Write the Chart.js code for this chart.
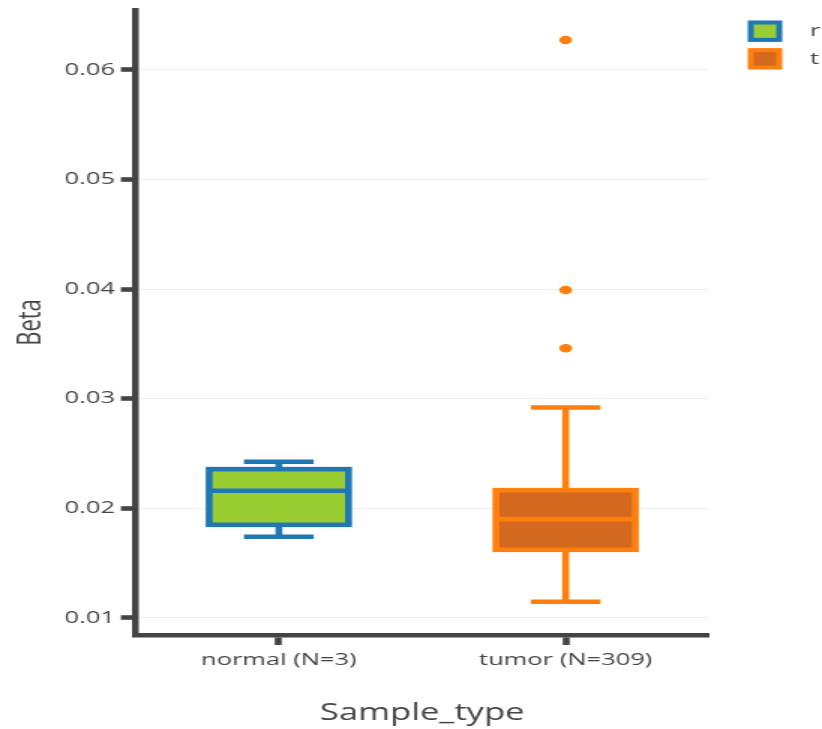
<!DOCTYPE html>
<html>
<head>
<meta charset="utf-8">
<script src="https://cdn.jsdelivr.net/npm/chart.js@4.4.1/dist/chart.umd.min.js"></script>
<style>
  html, body { margin: 0; padding: 0; background: #fff; }
  /* the reference is stretched sideways, so draw narrow and widen */
  #wrap { width: 548px; height: 729px; transform: scaleX(1.5); transform-origin: 0 0; }
</style>
</head>
<body>
<div id="wrap"><canvas id="box-1" width="548" height="729"></canvas></div>
<script>
const categories = ['normal (N=3)', 'tumor (N=309)'];
const legendLabels = ['r', 't'];
const q1 = [0.01848, 0.0162];
const median = [0.02159, 0.0190];
const q3 = [0.02356, 0.02164];
const lowerFence = [0.01739, 0.01146];
const upperFence = [0.02424, 0.02919];
const tumorOutliers = [0.06274, 0.03992, 0.0346];
const yTicks = [0.01, 0.02, 0.03, 0.04, 0.05, 0.06];

const fillColors = ['#9acd32', '#d2691e'];
const lineColors = ['#1f77b4', '#ff7f0e'];
const textColor = '#444';

Chart.defaults.font.family = 'Open Sans';

// whiskers, box outline and median line, drawn on the bar positions
const boxLines = {
    id: 'boxLines',
    afterDatasetsDraw(chart) {
        const c = chart.ctx;
        const y = chart.scales.y;
        c.save();
        c.lineWidth = 4.6;
        chart.getDatasetMeta(0).data.forEach((bar, i) => {
            const half = bar.width / 2;
            const top = y.getPixelForValue(q3[i]);
            const bottom = y.getPixelForValue(q1[i]);
            const hi = y.getPixelForValue(upperFence[i]);
            const lo = y.getPixelForValue(lowerFence[i]);
            const mid = y.getPixelForValue(median[i]);
            c.strokeStyle = lineColors[i];
            c.beginPath();
            c.moveTo(bar.x, top); c.lineTo(bar.x, hi);
            c.moveTo(bar.x, bottom); c.lineTo(bar.x, lo);
            c.moveTo(bar.x - half / 2, hi); c.lineTo(bar.x + half / 2, hi);
            c.moveTo(bar.x - half / 2, lo); c.lineTo(bar.x + half / 2, lo);
            c.moveTo(bar.x - half, mid); c.lineTo(bar.x + half, mid);
            c.stroke();
            c.strokeRect(bar.x - half, top, bar.width, bottom - top);
        });
        c.restore();
    }
};

const legendBoxes = {
    id: 'legendBoxes',
    afterDraw(chart) {
        const c = chart.ctx;
        c.save();
        legendLabels.forEach((label, i) => {
            const top = 22.5 + i * 27.6;
            c.fillStyle = fillColors[i];
            c.fillRect(500.5, top, 19, 17.4);
            c.strokeStyle = lineColors[i];
            c.lineWidth = 4;
            c.strokeRect(500.5, top, 19, 17.4);
            c.fillStyle = textColor;
            c.font = '17px "Open Sans"';
            c.textBaseline = 'alphabetic';
            c.fillText(label, 540, 36 + i * 27.6);
        });
        c.restore();
    }
};

function noPadding(s) {
    s.paddingTop = 0;
    s.paddingBottom = 0;
    s.paddingLeft = 0;
    s.paddingRight = 0;
}

const ctx = document.getElementById('box-1').getContext('2d');
const boxChart = new Chart(ctx, {
    type: 'bar',
    data: {
        labels: categories,
        datasets: [{
            data: q1.map((v, i) => [v, q3[i]]),
            backgroundColor: fillColors,
            borderWidth: 0,
            barPercentage: 0.486,
            categoryPercentage: 1
        }, {
            type: 'line',
            data: tumorOutliers.map(v => ({x: categories[1], y: v})),
            showLine: false,
            pointRadius: 4.3,
            pointBorderWidth: 0,
            pointBackgroundColor: lineColors[1]
        }]
    },
    options: {
        responsive: false,
        animation: false,
        events: [],
        layout: {padding: {left: 0, right: 75.3, top: 10, bottom: 0}},
        plugins: {legend: {display: false}, tooltip: {enabled: false}},
        scales: {
            x: {
                offset: true,
                grid: {drawOnChartArea: false, offset: false, tickLength: 10, tickColor: textColor, tickWidth: 4.6},
                border: {color: textColor, width: 4.5},
                ticks: {color: textColor, font: {size: 17}, padding: 5, maxRotation: 0, autoSkip: false},
                title: {display: true, text: 'Sample_type', color: textColor, font: {size: 23}, padding: {top: 0, bottom: 2}},
                afterFit(s) { s.height = 94; noPadding(s); }
            },
            y: {
                min: 0.008421,
                max: 0.065477,
                afterBuildTicks(s) { s.ticks = yTicks.map(v => ({value: v})); },
                grid: {color: '#eee', lineWidth: 1, tickLength: 9.7, tickColor: textColor, tickWidth: 4.6},
                border: {color: textColor, width: 4.5},
                ticks: {color: textColor, font: {size: 17}, padding: 4, callback: v => v.toFixed(2)},
                title: {display: true, text: 'Beta', color: textColor, font: {size: 22}, padding: {top: 7.3, bottom: 0}},
                afterFit(s) { s.width = 90.3; noPadding(s); }
            }
        }
    },
    plugins: [boxLines, legendBoxes]
});
</script>
</body>
</html>
